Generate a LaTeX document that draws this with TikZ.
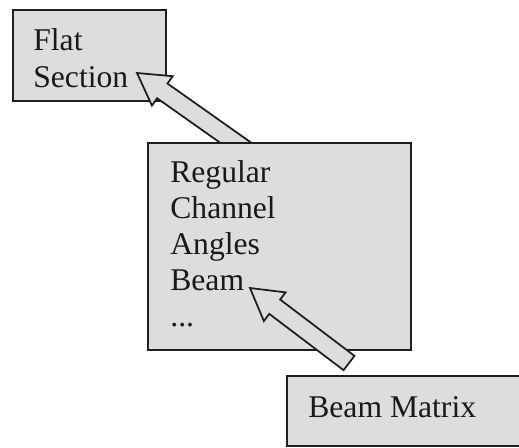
\documentclass[tikz,border=0pt]{standalone}
\usepackage{fontspec}
\setmainfont{Liberation Serif}
\usetikzlibrary{calc}
\definecolor{boxgray}{RGB}{221,221,221}
\definecolor{edgecol}{RGB}{30,30,30}
\tikzset{
  box/.style={draw=edgecol, line width=1pt, fill=boxgray, rectangle, inner sep=0pt, anchor=north west},
  boxtext/.style={inner sep=0pt, anchor=north west, align=left, text=black!90},
  fatarrowstyle/.style={draw=edgecol, line width=1pt, fill=boxgray, line join=miter},
}
\newcommand\drawfatarrow[3]{%
  \coordinate (#3h) at ($(#1)!0.62cm!(#2)$);
  \draw[fatarrowstyle] (#1) -- ($(#3h)!0.36cm!90:(#2)$) -- ($(#3h)!0.18cm!90:(#2)$)
    -- ($(#2)!0.18cm!-90:(#1)$) -- ($(#2)!0.18cm!90:(#1)$)
    -- ($(#3h)!0.18cm!-90:(#2)$) -- ($(#3h)!0.36cm!-90:(#2)$) -- cycle;
}
\begin{document}
\begin{tikzpicture}[x=0.02cm, y=-0.02cm]
  \useasboundingbox (0,0) rectangle (519,447);
  \clip (0,0) rectangle (519,447);
  \fill[white] (0,0) rectangle (519,447);
  % Flat Section box
  \node[box, minimum width=3.06cm, minimum height=1.82cm] (flat) at (12,9) {};
  \node[boxtext, font=\fontsize{18}{21}\selectfont] (flattext) at (33,28) {Flat\\Section};
  % arrow from main box to Flat Section
  \coordinate (tipA) at (137,73);
  \coordinate (tailA) at (246,150);
  \drawfatarrow{tipA}{tailA}{arA}
  % main box
  \node[box, minimum width=5.26cm, minimum height=4.14cm] (main) at (147,142) {};
  \node[boxtext, font=\fontsize{18}{20.5}\selectfont] (maintext) at (170,160) {Regular\\Channel\\Angles\\Beam\\...};
  % arrow from Beam Matrix to Beam
  \coordinate (tipB) at (250,288);
  \coordinate (tailB) at (349,363);
  \drawfatarrow{tipB}{tailB}{arB}
  % Beam Matrix box
  \node[box, minimum width=4.9cm, minimum height=1.40cm] (matrix) at (286,375) {};
  \node[inner sep=0pt, anchor=base west, font=\fontsize{18}{20.5}\selectfont, text=black!90] (matrixtext) at (308,417) {Beam Matrix};
\end{tikzpicture}
\end{document}
